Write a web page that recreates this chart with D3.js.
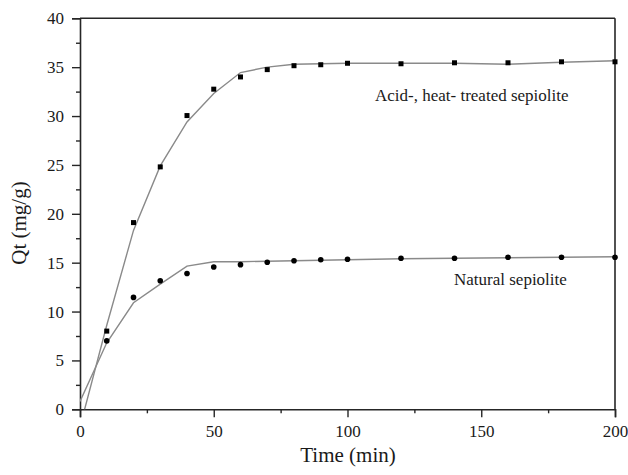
<!DOCTYPE html>
<html>
<head>
<meta charset="utf-8">
<script src="https://cdn.jsdelivr.net/npm/d3@7"></script>
<style>
  html, body { margin: 0; padding: 0; background: #fff; }
  svg { display: block; }
  text { font-family: "Liberation Serif", "Times New Roman", serif; fill: #1a1a1a; }
</style>
</head>
<body>
<svg id="chart" width="628" height="475"></svg>
<script>
// ---- data ----
const time = [10, 20, 30, 40, 50, 60, 70, 80, 90, 100, 120, 140, 160, 180, 200];
const acidHeat = [8.0, 19.1, 24.8, 30.05, 32.75, 34.0, 34.75, 35.15, 35.25, 35.4, 35.35, 35.45, 35.45, 35.55, 35.55];
const natural = [7.0, 11.45, 13.15, 13.9, 14.55, 14.8, 15.05, 15.2, 15.3, 15.35, 15.45, 15.45, 15.55, 15.55, 15.55];

const fitTime = [0, 10, 20, 30, 40, 50, 60, 70, 80, 90, 100, 120, 140, 160, 180, 200];
const acidHeatFit = [-1.8, 8.6, 18.3, 24.9, 29.4, 32.3, 34.45, 35.0, 35.3, 35.35, 35.4, 35.4, 35.4, 35.3, 35.5, 35.65];
const naturalFit = [0.8, 6.8, 10.9, 12.8, 14.65, 15.1, 15.1, 15.15, 15.2, 15.25, 15.3, 15.4, 15.45, 15.5, 15.55, 15.6];

const xTicks = [0, 50, 100, 150, 200];
const xMinorTicks = [25, 75, 125, 175];
const yTicks = [0, 5, 10, 15, 20, 25, 30, 35, 40];
const yMinorTicks = [2.5, 7.5, 12.5, 17.5, 22.5, 27.5, 32.5, 37.5];

const xTitle = "Time (min)";
const yTitle = "Qt (mg/g)";
const labelAcid = "Acid-, heat- treated sepiolite";
const labelNatural = "Natural sepiolite";

// ---- layout ----
const svg = d3.select("#chart");
const mLeft = 80, mRight = 615, mTop = 18.3, mBottom = 409.3;

const x = d3.scaleLinear().domain([0, 200]).range([mLeft, mRight]);
const y = d3.scaleLinear().domain([0, 40]).range([mBottom, mTop]);

const axisColor = "#262626";

// clip
svg.append("defs").append("clipPath").attr("id", "plotclip")
  .append("rect").attr("x", mLeft).attr("y", mTop).attr("width", mRight - mLeft).attr("height", mBottom - mTop);

// frame (top and right)
svg.append("line").attr("x1", mLeft).attr("x2", mRight).attr("y1", mTop).attr("y2", mTop)
  .attr("stroke", axisColor).attr("stroke-width", 1.6);
svg.append("line").attr("x1", mRight).attr("x2", mRight).attr("y1", mTop).attr("y2", mBottom)
  .attr("stroke", axisColor).attr("stroke-width", 1.6);

// x axis
svg.append("g").attr("transform", `translate(0,${mBottom})`)
  .call(d3.axisBottom(x).tickValues(xTicks).tickSize(8).tickPadding(8).tickFormat(d3.format("d")));
svg.append("g").attr("transform", `translate(0,${mBottom})`)
  .call(d3.axisBottom(x).tickValues(xMinorTicks).tickSize(4).tickFormat(""))
  .call(g => g.select(".domain").remove());

// y axis
svg.append("g").attr("transform", `translate(${mLeft},0)`)
  .call(d3.axisLeft(y).tickValues(yTicks).tickSize(8).tickPadding(8).tickFormat(d3.format("d")));
svg.append("g").attr("transform", `translate(${mLeft},0)`)
  .call(d3.axisLeft(y).tickValues(yMinorTicks).tickSize(4).tickFormat(""))
  .call(g => g.select(".domain").remove());

svg.selectAll(".domain").attr("stroke", axisColor).attr("stroke-width", 1.6);
svg.selectAll(".tick line").attr("stroke", axisColor).attr("stroke-width", 1.4);
svg.selectAll(".tick text").attr("font-family", "'Liberation Serif', 'Times New Roman', serif")
  .attr("font-size", 17).attr("fill", "#1a1a1a");

// axis titles
svg.append("text").attr("x", 348).attr("y", 462).attr("text-anchor", "middle")
  .attr("font-size", 21).text(xTitle);
svg.append("text").attr("transform", "translate(26,223) rotate(-90)").attr("text-anchor", "middle")
  .attr("font-size", 21).text(yTitle);

// fit lines
const plot = svg.append("g").attr("clip-path", "url(#plotclip)");
const line = d3.line().x(d => x(d[0])).y(d => y(d[1]));
plot.append("path").datum(fitTime.map((t, i) => [t, acidHeatFit[i]]))
  .attr("d", line).attr("fill", "none").attr("stroke", "#8a8a8a").attr("stroke-width", 1.4);
plot.append("path").datum(fitTime.map((t, i) => [t, naturalFit[i]]))
  .attr("d", line).attr("fill", "none").attr("stroke", "#8a8a8a").attr("stroke-width", 1.4);

// markers
const sq = 5;
svg.append("g").selectAll("rect").data(time.map((t, i) => [t, acidHeat[i]])).join("rect")
  .attr("x", d => x(d[0]) - sq / 2).attr("y", d => y(d[1]) - sq / 2)
  .attr("width", sq).attr("height", sq).attr("fill", "#000");
svg.append("g").selectAll("circle").data(time.map((t, i) => [t, natural[i]])).join("circle")
  .attr("cx", d => x(d[0])).attr("cy", d => y(d[1])).attr("r", 2.8).attr("fill", "#000");

// series labels
svg.append("text").attr("x", 375).attr("y", 101).attr("font-size", 17).text(labelAcid);
svg.append("text").attr("x", 454).attr("y", 285).attr("font-size", 17).text(labelNatural);
</script>
</body>
</html>
